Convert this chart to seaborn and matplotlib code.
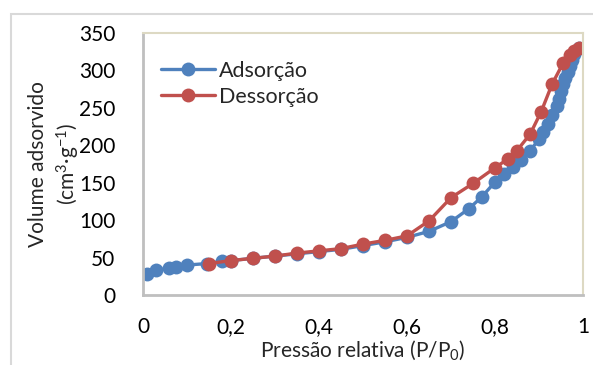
import matplotlib
matplotlib.use("Agg")
import matplotlib.pyplot as plt
import seaborn as sns
import pandas as pd
from matplotlib.patches import Rectangle
from matplotlib.lines import Line2D

# ---- data ----
ads_x = [0.01, 0.03, 0.06, 0.075, 0.10, 0.145, 0.18, 0.20, 0.25, 0.30, 0.35, 0.40,
         0.45, 0.50, 0.55, 0.60, 0.65, 0.70, 0.74, 0.77, 0.80, 0.82, 0.84, 0.86,
         0.88, 0.90, 0.91, 0.92, 0.93, 0.94, 0.945, 0.95, 0.955, 0.96, 0.965,
         0.97, 0.975, 0.98, 0.99]
ads_y = [28, 33, 36, 38, 40, 42, 45, 46, 49, 52, 55, 58,
         61, 66, 71, 77, 85, 98, 115, 131, 151, 161, 171, 181,
         193, 208, 218, 228, 240, 252, 262, 272, 282, 290, 298,
         306, 314, 322, 330]
des_x = [0.15, 0.20, 0.25, 0.30, 0.35, 0.40, 0.45, 0.50, 0.55, 0.60, 0.65, 0.70,
         0.75, 0.80, 0.83, 0.85, 0.88, 0.905, 0.93, 0.955, 0.97, 0.98, 0.99]
des_y = [42, 46, 49, 52, 56, 59, 62, 68, 73, 79, 99, 130,
         149, 170, 182, 193, 215, 245, 282, 310, 321, 326, 330]
series_names = ["Adsorção", "Dessorção"]
x_ticks = [0, 0.2, 0.4, 0.6, 0.8, 1.0]
x_tick_labels = ["0", "0,2", "0,4", "0,6", "0,8", "1"]
y_ticks = [0, 50, 100, 150, 200, 250, 300, 350]

df = pd.concat([
    pd.DataFrame({"x": ads_x, "y": ads_y, "serie": series_names[0]}),
    pd.DataFrame({"x": des_x, "y": des_y, "serie": series_names[1]}),
], ignore_index=True)

sns.set_style("white")
plt.rcParams["font.family"] = ["Lato", "DejaVu Sans"]
plt.rcParams["mathtext.default"] = "regular"

colors = {"Adsorção": "#4F81BD", "Dessorção": "#C0504D"}

W, H = 593, 365
fig = plt.figure(figsize=(W / 100, H / 100), dpi=100)
fig.patch.set_facecolor("white")

# outer chart border (top and left visible)
fig.add_artist(Rectangle((11 / W, -0.1), 1.2, (H - 14) / H + 0.1, transform=fig.transFigure,
                         fill=False, edgecolor="#D9D9D9", linewidth=1.5))

ax = fig.add_axes([143 / W, (H - 295) / H, 440 / W, (295 - 33) / H])
sns.lineplot(data=df, x="x", y="y", hue="serie", palette=colors, marker="o",
             markersize=10, markeredgewidth=0, linewidth=2.4, ax=ax, legend=False)

ax.set_xlim(0, 1)
ax.set_ylim(0, 350)
ax.set_xticks(x_ticks)
ax.set_xticklabels(x_tick_labels)
ax.set_yticks(y_ticks)
ax.tick_params(axis="both", length=0, labelsize=15, colors="black")
ax.tick_params(axis="x", pad=16)
ax.tick_params(axis="y", pad=20)

ax.set_xlabel("Pressão relativa (P/P$_0$)", fontsize=15, labelpad=0.5)
ax.set_ylabel("Volume adsorvido\n(cm$^{3}$·g$^{-1}$)", fontsize=15, labelpad=-2,
              multialignment="center", linespacing=1.3)

for s in ["left", "bottom"]:
    ax.spines[s].set_color("#BFBFBF")
    ax.spines[s].set_linewidth(2)
for s in ["top", "right"]:
    ax.spines[s].set_color("#DDD9C3")
    ax.spines[s].set_linewidth(1.5)

handles = [Line2D([], [], color=colors[n], marker="o", markersize=10, markeredgewidth=0,
                  linewidth=2.4) for n in series_names]
ax.legend(handles, series_names, loc="upper left", bbox_to_anchor=(0.041, 0.895),
          frameon=False, fontsize=15.5, handlelength=2.5, handletextpad=0.2,
          labelspacing=0.3, borderaxespad=0, borderpad=0)

fig.savefig("out.png", dpi=100, facecolor="white")
